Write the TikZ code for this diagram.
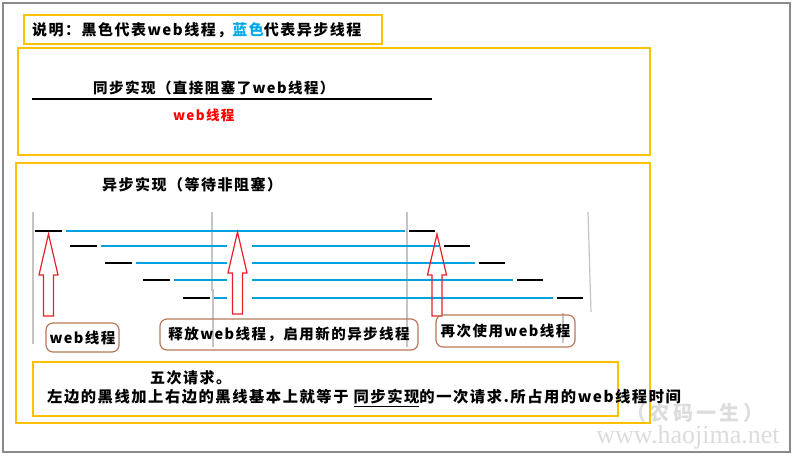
\documentclass[tikz,border=0pt]{standalone}
\usepackage{fontspec}
\setmainfont{Noto Sans CJK SC}[LetterSpace=10]
\newfontfamily\wmserif{Liberation Serif}
\newfontfamily\plaincjk{Noto Sans CJK SC}
\definecolor{boxyellow}{HTML}{FFC000}
\definecolor{lineblue}{HTML}{00A2E0}
\definecolor{textblue}{HTML}{00A8E8}
\definecolor{arrowred}{HTML}{E8202A}
\definecolor{labelbrown}{HTML}{B7795A}
\definecolor{guidegray}{HTML}{C4C4C4}
\definecolor{framegray}{HTML}{8A8A8A}
\definecolor{wmgray}{HTML}{DCDCDC}
\newcommand\fsz[1]{\fontsize{#1}{#1}\selectfont}
\tikzset{
  ybox/.style={draw=boxyellow, line width=1.2pt},
  txt/.style={inner sep=0pt, anchor=west, font=\fsz{15}\bfseries},
  blueline/.style={draw=lineblue, line width=1.5pt},
  blackline/.style={draw=black, line width=1.4pt},
  guide/.style={draw=guidegray, line width=1.2pt},
  lbl/.style={draw=labelbrown, line width=1.2pt, rounded corners=7pt, inner sep=0pt, font=\fsz{14.5}\bfseries},
  uparrow/.pic={
    \draw[arrowred, line width=1.2pt, line join=miter]
      (0,0) -- (9.5,41) -- (5,41) -- (5,82) -- (-5,82) -- (-5,41) -- (-9.5,41) -- cycle;
  }
}
\begin{document}
\begin{tikzpicture}[x=1pt, y=-1pt]
\useasboundingbox (0,0) rectangle (795,457);
\fill[white] (0,0) rectangle (795,457);
% outer frame
\draw[framegray, line width=2pt] (3,3) rectangle (790,452);
% watermark
\node[inner sep=0pt, text=wmgray, font=\plaincjk\fsz{20}\bfseries] (wm1) at (695,413) {（\,农\,码\,一\,生\,）};
\node[inner sep=0pt, text=wmgray, font=\wmserif\fsz{26}] (wm2) at (688,437) {www.haojima.net};
% legend
\draw[ybox] (24,15) rectangle (382,44);
\node[txt] (legend) at (32,30) {说明：黑色代表web线程，\textcolor{textblue}{蓝色}代表异步线程};
% synchronous box
\draw[ybox] (18,48) rectangle (650,155);
\node[txt, font=\fsz{14.5}\bfseries] (synctitle) at (93,87.5) {同步实现（直接阻塞了web线程）};
\draw[line width=1.2pt] (32,99) -- (432,99);
\node[txt, text=red, font=\fsz{13.5}\bfseries] (syncweb) at (173,115.5) {web线程};
% asynchronous box
\draw[ybox] (16,163) rectangle (650,423);
\node[txt] (asynctitle) at (102,185) {异步实现（等待非阻塞）};
% grey guide lines
\draw[guide] (33,212) -- (33,344);
\draw[guide] (212,212) -- (212,290) -- (213,290) -- (213,347);
\draw[guide] (407,212) -- (407,347);
\draw[guide] (588,212) -- (591,312);
\draw[guide] (563,313) -- (563,343);
% request rows
\draw[blackline] (35,231) -- (62,231);
\draw[blueline] (66,231) -- (405,231);
\draw[blackline] (409,231) -- (435,231);
\foreach \yy/\ba/\bb/\ua/\ub/\ca/\cb in {246/70/97/101/439/444/470, 263/105/132/136/475/479/505, 280/143/170/174/513/517/543, 298/183/210/214/553/557/583}{
  \draw[blackline] (\ba,\yy) -- (\bb,\yy);
  \draw[blueline] (\ua,\yy) -- (227,\yy);
  \draw[blueline] (252,\yy) -- (\ub,\yy);
  \draw[blackline] (\ca,\yy) -- (\cb,\yy);
}
% arrows
\pic at (48.5,234) {uparrow};
\pic at (237.5,232) {uparrow};
\pic at (437,234) {uparrow};
% labels
\node[lbl, minimum width=73pt, minimum height=29pt] (lab1) at (82.5,337.5) {web线程};
\node[lbl, minimum width=258pt, minimum height=31pt] (lab2) at (289,334.5) {释放web线程，启用新的异步线程};
\node[lbl, minimum width=139pt, minimum height=32pt] (lab3) at (505.5,331) {再次使用web线程};
% bottom note
\draw[ybox] (33,362) rectangle (618,416);
\node[txt] (five) at (150,378) {五次请求。};
\node[txt, font=\fsz{15.3}\bfseries] (note) at (47,398) {左边的黑线加上右边的黑线基本上就等于\ \underline{同步实现}的一次请求.所占用的web线程时间};
\end{tikzpicture}
\end{document}
